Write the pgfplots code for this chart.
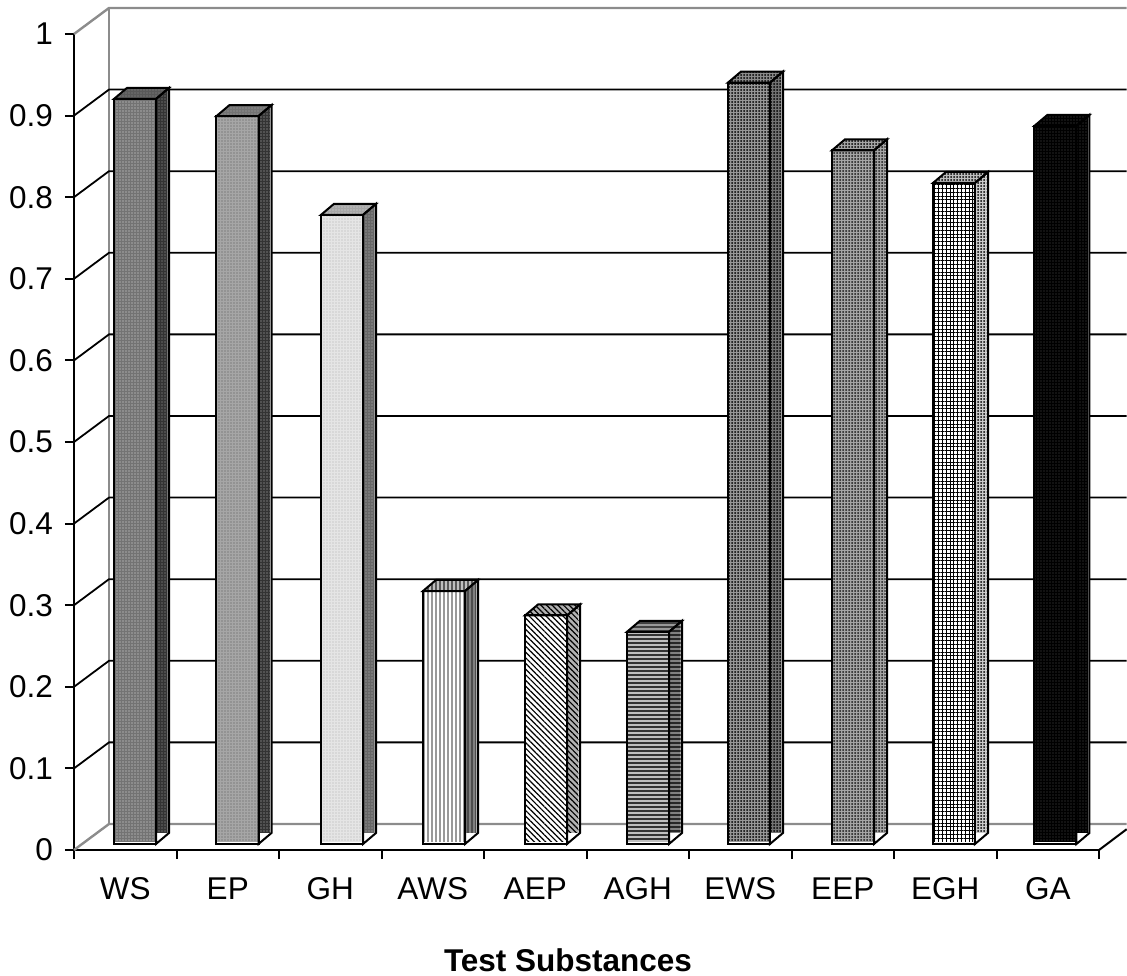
\documentclass[border=0pt]{standalone}
\usepackage{fontspec}
\setmainfont{Liberation Sans}
\usepackage{pgfplots}
\pgfplotsset{compat=1.18}
\usetikzlibrary{patterns.meta}

% bar depth and width, in axis units
\newcommand{\bw}{0.41}
\newcommand{\ddx}{0.127}
\newcommand{\ddy}{0.0135}
\newcommand{\base}{0.0074}

% one bar: left edge, value, front / side / top look
\newcommand{\threedbar}[5]{%
  \pgfmathsetmacro\xb{#1+\bw}%
  \pgfmathsetmacro\xc{#1+\bw+\ddx}%
  \pgfmathsetmacro\xs{#1+\bw+\ddx-0.014}%
  \pgfmathsetmacro\xd{#1+\ddx}%
  \pgfmathsetmacro\yt{#2+\base}%
  \pgfmathsetmacro\ytt{#2+\base+\ddy}%
  \pgfmathsetmacro\ybb{\base+\ddy}%
  \pgfmathsetmacro\yf{\base+0.003}%
  \addplot[fill=white,draw=none] coordinates {(\xb,\base) (\xc,\ybb) (\xc,\ytt) (\xb,\yt)} -- cycle;
  \addplot[fill=white,draw=none] coordinates {(#1,\base) (\xb,\base) (\xb,\yt) (#1,\yt)} -- cycle;
  \addplot[#4] coordinates {(\xb,\ybb) (\xs,\ybb) (\xs,\ytt) (\xb,\yt)} -- cycle;
  \addplot[#5] coordinates {(#1,\yt) (\xb,\yt) (\xc,\ytt) (\xd,\ytt)} -- cycle;
  \addplot[#3] coordinates {(#1,\yf) (\xb,\yf) (\xb,\yt) (#1,\yt)} -- cycle;
  \addplot[bar edge] coordinates {(\xb,\base) (\xc,\ybb) (\xc,\ytt) (\xb,\yt)} -- cycle;
  \addplot[bar edge] coordinates {(#1,\yt) (\xb,\yt) (\xc,\ytt) (\xd,\ytt)} -- cycle;
  \addplot[bar edge] coordinates {(#1,\base) (\xb,\base) (\xb,\yt) (#1,\yt)} -- cycle;
}

\tikzset{
  bar edge/.style={black,line width=1pt,line join=miter},
  tex/.style n args={3}{preaction={fill=#1},#2,pattern color=#3,draw=none},
  fd/.style={pattern={Dots[distance=1.5pt,radius=0.4pt]}},
  cd/.style={pattern={Dots[distance=1.5pt,radius=0.5pt]}},
  gd/.style={pattern={Hatch[angle=0,distance=1.9pt,line width=0.45pt]}},
  vl/.style={pattern={Lines[angle=90,distance=2pt,line width=0.8pt]}},
  dl/.style={pattern={Lines[angle=-45,distance=2pt,line width=0.6pt]}},
  hl/.style={pattern={Lines[angle=0,distance=2pt,line width=1.1pt]}},
}

\begin{document}
\begin{tikzpicture}[x=1pt,y=1pt]
\path[use as bounding box] (0,0) rectangle (563.5,487.5);
\begin{axis}[
    at={(37pt,62.5pt)},
    anchor=origin,
    scale only axis,
    width=512.5pt,
    height=408pt,
    xmin=0, xmax=10,
    ymin=0, ymax=1,
    clip=false,
    axis lines=left,
    axis line style={-,black,line width=1pt},
    tick style={black,line width=1pt},
    tick align=outside,
    major tick length=4.5pt,
    xtick={0,1,...,10},
    x tick label as interval,
    xticklabels={WS,EP,GH,AWS,AEP,AGH,EWS,EEP,EGH,GA},
    ytick={0,0.1,0.2,0.3,0.4,0.5,0.6,0.7,0.8,0.9,1},
    yticklabels={0,0.1,0.2,0.3,0.4,0.5,0.6,0.7,0.8,0.9,1},
    tick label style={font=\fontsize{15.75}{18}\selectfont},
    xticklabel style={text height=11.3pt,text depth=0pt,yshift=-5.5pt},
    yticklabel style={xshift=-2.5pt},
    xlabel={\textbf{Test Substances}},
    xlabel style={font=\fontsize{15.75}{18}\selectfont,xshift=-9.25pt,yshift=-17.5pt},
]
% back wall and grid
\addplot[gray!90,line width=1.2pt] coordinates {(0,1) (0.3415,1.0319) (10.27,1.0319)};
\addplot[gray!90,line width=1.2pt] coordinates {(0.3415,1.0319) (0.3415,0.0319)};
\addplot[gray!90,line width=1.2pt] coordinates {(0,0) (0.3415,0.0319) (10.27,0.0319)};
\addplot[black,line width=1pt] coordinates {(10,0) (10.27,0.0255)};
\addplot[black,line width=0.9pt] coordinates {(0,0.1) (0.3415,0.1319) (10.27,0.1319)};
\addplot[black,line width=0.9pt] coordinates {(0,0.2) (0.3415,0.2319) (10.27,0.2319)};
\addplot[black,line width=0.9pt] coordinates {(0,0.3) (0.3415,0.3319) (10.27,0.3319)};
\addplot[black,line width=0.9pt] coordinates {(0,0.4) (0.3415,0.4319) (10.27,0.4319)};
\addplot[black,line width=0.9pt] coordinates {(0,0.5) (0.3415,0.5319) (10.27,0.5319)};
\addplot[black,line width=0.9pt] coordinates {(0,0.6) (0.3415,0.6319) (10.27,0.6319)};
\addplot[black,line width=0.9pt] coordinates {(0,0.7) (0.3415,0.7319) (10.27,0.7319)};
\addplot[black,line width=0.9pt] coordinates {(0,0.8) (0.3415,0.8319) (10.27,0.8319)};
\addplot[black,line width=0.9pt] coordinates {(0,0.9) (0.3415,0.9319) (10.27,0.9319)};
% bars
\threedbar{0.39}{0.913}
  {tex={black!55}{fd}{black!35}}
  {tex={black!80}{fd}{black!60}}
  {tex={black!65}{fd}{black!55}}
\threedbar{1.39}{0.892}
  {tex={gray!70}{fd}{gray}}
  {tex={black!80}{fd}{black!55}}
  {tex={black!55}{fd}{black!45}}
\threedbar{2.41}{0.771}
  {tex={black!10}{fd}{black!20}}
  {tex={black!60}{fd}{black!45}}
  {tex={black!35}{fd}{black!25}}
\threedbar{3.405}{0.31}
  {tex={white}{vl}{gray!80}}
  {tex={gray}{vl}{black!70}}
  {tex={black!25}{vl}{black!65}}
\threedbar{4.40}{0.28}
  {tex={white}{dl}{black}}
  {tex={gray!60}{dl}{black}}
  {tex={gray!60}{dl}{black}}
\threedbar{5.395}{0.26}
  {tex={gray!50}{hl}{black!80}}
  {tex={gray}{hl}{black!85}}
  {tex={black!40}{hl}{black!75}}
\threedbar{6.38}{0.933}
  {tex={gray!80}{cd}{black}}
  {tex={black!55}{cd}{black}}
  {tex={black!45}{cd}{black}}
\threedbar{7.395}{0.85}
  {tex={gray!70}{cd}{black!90}}
  {tex={gray!70}{cd}{black!90}}
  {tex={gray!70}{cd}{black}}
\threedbar{8.38}{0.81}
  {tex={white}{gd}{black}}
  {tex={gray!40}{cd}{black}}
  {tex={gray!50}{cd}{black}}
\threedbar{9.37}{0.88}
  {tex={black}{fd}{black!85}}
  {tex={black}{fd}{black!85}}
  {tex={black}{fd}{black!85}}
\end{axis}
\end{tikzpicture}
\end{document}
